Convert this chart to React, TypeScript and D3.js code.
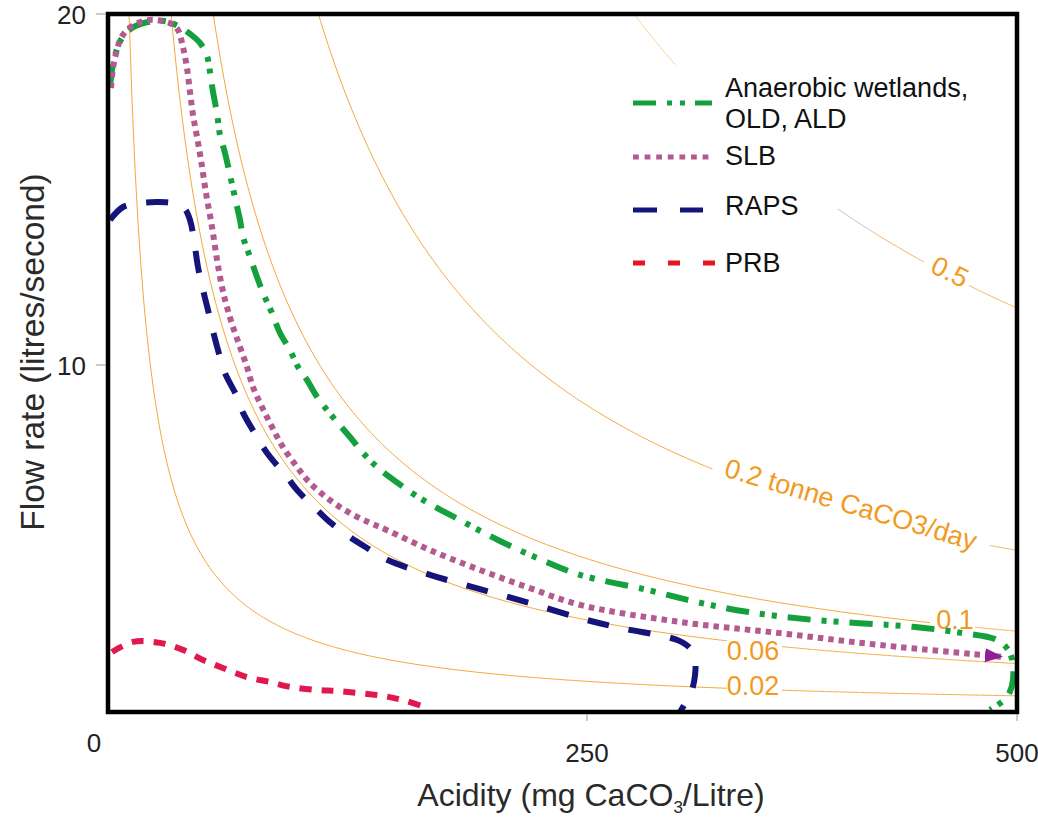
import React from "react";
import * as d3 from "d3";

const WIDTH = 1038;
const HEIGHT = 817;
const FONT = "'Liberation Sans', Arial, Helvetica, sans-serif";

// Axis ticks
const xTickValues = [0, 250, 500];
const yTickValues = [10, 20];

// Load contours (tonne CaCO3/day)
const contourLevels = [0.02, 0.06, 0.1, 0.2, 0.5];

// Anaerobic wetlands, OLD, ALD
const wetlandAcidity = [1.1, 2.2, 4.4, 7.7, 13.2, 22.0, 31.35, 38.5, 45.1, 50.6, 54.45, 56.1, 57.75, 59.95, 61.6, 64.35, 67.1, 70.4, 72.6, 74.3, 78.1, 82.0, 85.25, 90.2, 94.6, 100.1, 104.5, 109.5, 115.0, 120.5, 126.5, 133.1, 140.3, 148.0, 153.5, 171.6, 193.6, 215.6, 237.6, 259.6, 296.5, 324.0, 351.5, 387.8, 442.8, 470.3, 489.0, 496.1, 497.8, 494.5, 485.1];
const wetlandFlow = [17.88, 18.4, 18.91, 19.31, 19.6, 19.77, 19.8, 19.66, 19.43, 19.17, 18.8, 18.34, 17.77, 17.16, 16.53, 16.02, 15.39, 14.61, 14.1, 13.61, 13.04, 12.46, 12.01, 11.43, 10.86, 10.37, 9.89, 9.51, 9.03, 8.65, 8.28, 7.88, 7.42, 7.02, 6.79, 6.13, 5.5, 4.9, 4.38, 3.93, 3.5, 3.15, 2.87, 2.64, 2.44, 2.26, 2.06, 1.69, 0.92, 0.43, 0.06];

// SLB
const slbAcidity = [1.65, 2.75, 4.95, 7.15, 11.0, 16.5, 23.1, 29.7, 35.2, 38.5, 41.25, 43.45, 45.1, 46.75, 48.95, 51.15, 53.9, 57.2, 60.0, 62.7, 65.45, 68.75, 72.6, 76.45, 79.75, 84.7, 90.2, 96.25, 104.0, 111.1, 122.1, 133.1, 144.1, 153.5, 177.1, 204.6, 232.1, 259.6, 314.6, 369.6, 424.6, 492.3];
const slbFlow = [17.88, 18.45, 18.97, 19.31, 19.57, 19.74, 19.83, 19.8, 19.71, 19.54, 19.05, 18.45, 17.77, 17.11, 16.48, 15.82, 14.87, 13.9, 12.95, 12.18, 11.6, 11.03, 10.46, 9.89, 9.31, 8.74, 8.17, 7.59, 7.02, 6.56, 6.07, 5.7, 5.42, 5.21, 4.64, 4.07, 3.55, 3.07, 2.58, 2.26, 1.92, 1.58];

// RAPS
const rapsAcidity = [1.1, 8.25, 17.6, 27.0, 35.2, 41.8, 45.1, 47.3, 49.5, 52.3, 55.0, 58.3, 61.6, 64.35, 71.0, 74.3, 82.0, 87.5, 98.5, 104.0, 115.0, 122.1, 133.1, 142.5, 153.5, 177.1, 204.6, 232.1, 259.6, 281.6, 307.5, 314.6, 320.1, 322.9, 322.9, 321.2, 317.9, 314.6];
const rapsFlow = [14.1, 14.47, 14.58, 14.61, 14.58, 14.44, 14.1, 13.52, 12.75, 12.09, 11.52, 10.8, 10.17, 9.71, 9.03, 8.57, 7.88, 7.42, 6.73, 6.36, 5.79, 5.44, 5.01, 4.7, 4.36, 3.93, 3.52, 3.12, 2.69, 2.41, 2.15, 2.03, 1.83, 1.49, 1.06, 0.63, 0.29, 0.0];

// PRB
const prbAcidity = [2.2, 13.75, 28.6, 41.25, 52.25, 63.25, 76.45, 89.1, 100.1, 115.0, 126.0, 138.6, 151.3, 162.3, 174.4];
const prbFlow = [1.72, 2.01, 1.98, 1.78, 1.49, 1.26, 1.0, 0.86, 0.72, 0.63, 0.6, 0.54, 0.46, 0.34, 0.14];

const seriesNames = ["Anaerobic wetlands,|OLD, ALD", "SLB", "RAPS", "PRB"];

type Pt = [number, number];
const zip = (a: number[], f: number[]): Pt[] => a.map((v, i) => [v, f[i]]);

export default function App() {
  const x = d3.scaleLinear().domain([0, 500]).range([108, 1017]);
  const y = d3.scaleLinear().domain([0, 20]).range([712, 14]);
  // tick label placement as printed on the original figure
  const xTickPos = d3.scaleLinear().domain([0, 250, 500]).range([94, 587, 1017]);
  const yTickPos = d3.scaleLinear().domain([0, 10, 20]).range([712, 365, 14]);

  const line = d3
    .line<Pt>()
    .x((d) => x(d[0]))
    .y((d) => y(d[1]))
    .curve(d3.curveCatmullRom.alpha(0.5));
  const straight = d3
    .line<Pt>()
    .x((d) => x(d[0]))
    .y((d) => y(d[1]));

  const K = 1e9 / 86400; // mg->tonne, s->day
  const contourPath = (load: number, a0: number, a1: number) => {
    const start = Math.max(a0, (load * K) / 20);
    const pts: Pt[] = [];
    const n = 200;
    for (let i = 0; i <= n; i++) {
      const a = start + ((a1 - start) * i) / n;
      pts.push([a, (load * K) / a]);
    }
    return straight(pts) || "";
  };

  // visible pieces of each contour (gaps for labels)
  const contourPieces: Record<string, { a0: number; a1: number; op: number; col?: string }[]> = {
    "0.02": [{ a0: 0, a1: 340.5, op: 1 }, { a0: 370.7, a1: 500, op: 1 }],
    "0.06": [{ a0: 0, a1: 340.5, op: 1 }, { a0: 370.7, a1: 500, op: 1 }],
    "0.1": [{ a0: 0, a1: 452.1, op: 1 }, { a0: 476.9, a1: 500, op: 1 }],
    "0.2": [{ a0: 0, a1: 332.5, op: 1 }, { a0: 485, a1: 500, op: 1 }],
    "0.5": [
      { a0: 0, a1: 312, op: 0.55 },
      { a0: 312, a1: 401.5, op: 0.06 },
      { a0: 401.5, a1: 421, op: 0.7, col: "#9a9aa6" },
      { a0: 421, a1: 448.8, op: 1 },
      { a0: 473.6, a1: 500, op: 1 },
    ],
  };

  const contourLabelLayout = [
    { text: "0.5", a: 463.1, f: 12.61, rot: 26, anchor: "middle", base: "central" },
    { text: "0.2 tonne CaCO3/day", a: 338.3, f: 6.76, rot: 16.5, anchor: "start", base: "alphabetic" },
    { text: "0.1", a: 465.9, f: 2.64, rot: 0, anchor: "middle", base: "central" },
    { text: "0.06", a: 354.8, f: 1.75, rot: 0, anchor: "middle", base: "central" },
    { text: "0.02", a: 354.8, f: 0.745, rot: 0, anchor: "middle", base: "central" },
  ];

  const orangeLine = "#f5a83a";
  const orangeText = "#f29a1f";

  const series = [
    { name: seriesNames[0], pts: zip(wetlandAcidity, wetlandFlow), color: "#14a03c", dash: "23 11 5 7 5 11", legendDash: "23 11 5 8 5 10", width: 6, legendLen: 79 },
    { name: seriesNames[1], pts: zip(slbAcidity, slbFlow), color: "#b35a91", dash: "5.5 5", legendDash: "5.8 5.8", width: 6, legendLen: 78 },
    { name: seriesNames[2], pts: zip(rapsAcidity, rapsFlow), color: "#14147a", dash: "22 20", legendDash: "24 23", width: 6, legendLen: 70 },
    { name: seriesNames[3], pts: zip(prbAcidity, prbFlow), color: "#e0184e", dash: "12 10", legendDash: "12 23", width: 6, legendLen: 82, legendColor: "#e8141e" },
  ];
  const drawOrder = [3, 2, 0, 1];
  const legendRows = [
    { lineY: 103, textY: [96.7, 128.3] },
    { lineY: 157, textY: [165] },
    { lineY: 210, textY: [215] },
    { lineY: 263, textY: [271.7] },
  ];

  return (
    <svg
      width={WIDTH}
      height={HEIGHT}
      style={{ position: "absolute", left: 0, top: 0, background: "#fff" }}
      fontFamily={FONT}
    >
      <defs>
        <marker
          id="slbArrow"
          markerUnits="userSpaceOnUse"
          markerWidth={19}
          markerHeight={15}
          refX={18}
          refY={7}
          orient="auto"
        >
          <path d="M0,0 L18,7 L0,14 Z" fill="#8e1f96" />
        </marker>
      </defs>
      <rect x={0} y={0} width={WIDTH} height={HEIGHT} fill="#fff" />

      {/* contours */}
      <g fill="none" strokeWidth={1}>
        {contourLevels.map((L) =>
          contourPieces[String(L)].map((p, i) => (
            <path
              key={`${L}-${i}`}
              d={contourPath(L, p.a0, p.a1)}
              stroke={p.col || orangeLine}
              strokeOpacity={p.op}
            />
          ))
        )}
      </g>
      <g fill={orangeText} fontSize={27}>
        {contourLabelLayout.map((l) => (
          <text
            key={l.text}
            transform={`translate(${x(l.a)},${y(l.f)}) rotate(${l.rot})`}
            textAnchor={l.anchor as any}
            dominantBaseline={l.base as any}
          >
            {l.text}
          </text>
        ))}
      </g>

      {/* series */}
      <g fill="none" strokeLinecap="butt" strokeLinejoin="round">
        {drawOrder.map((i) => {
          const s = series[i];
          return (
            <path
              key={s.name}
              d={line(s.pts) || ""}
              stroke={s.color}
              strokeWidth={s.width}
              strokeDasharray={s.dash}
              markerEnd={i === 1 ? "url(#slbArrow)" : undefined}
            />
          );
        })}
      </g>

      {/* frame */}
      <rect
        x={x(0)}
        y={y(20)}
        width={x(500) - x(0)}
        height={y(0) - y(20)}
        fill="none"
        stroke="#000"
        strokeWidth={4.5}
      />

      {/* y axis ticks */}
      <g>
        {yTickValues.map((v) => (
          <g key={v}>
            <line x1={x(0) - 12} x2={x(0) - 2} y1={yTickPos(v)} y2={yTickPos(v)} stroke="#999" strokeWidth={1} />
            <text x={86} y={yTickPos(v) + 10} textAnchor="end" fontSize={26} fill="#222">
              {v}
            </text>
          </g>
        ))}
      </g>
      {/* x axis ticks */}
      <g>
        {xTickValues.map((v) => (
          <g key={v}>
            {v > 0 && (
              <line x1={xTickPos(v)} x2={xTickPos(v)} y1={y(0) + 2} y2={y(0) + 9} stroke="#999" strokeWidth={1} />
            )}
            <text x={xTickPos(v)} y={v === 0 ? 752 : 762} textAnchor="middle" fontSize={26} fill="#222">
              {v}
            </text>
          </g>
        ))}
      </g>

      {/* axis titles */}
      <text x={591} y={806} textAnchor="middle" fontSize={32} fill="#2a2a2a">
        <tspan>Acidity (mg CaCO</tspan>
        <tspan fontSize={17} dy={7}>3</tspan>
        <tspan dy={-7}>/Litre)</tspan>
      </text>
      <text
        transform={`translate(44,352) rotate(-90)`}
        textAnchor="middle"
        fontSize={33.5}
        fill="#2a2a2a"
      >
        Flow rate (litres/second)
      </text>

      {/* legend */}
      <g>
        {series.map((s, i) => (
          <g key={s.name}>
            <line
              x1={633}
              x2={633 + s.legendLen}
              y1={legendRows[i].lineY}
              y2={legendRows[i].lineY}
              stroke={(s as any).legendColor || s.color}
              strokeWidth={5}
              strokeDasharray={s.legendDash}
            />
            {s.name.split("|").map((t, j) => (
              <text key={j} x={725} y={legendRows[i].textY[j]} fontSize={27} fill="#111">
                {t}
              </text>
            ))}
          </g>
        ))}
      </g>
    </svg>
  );
}
